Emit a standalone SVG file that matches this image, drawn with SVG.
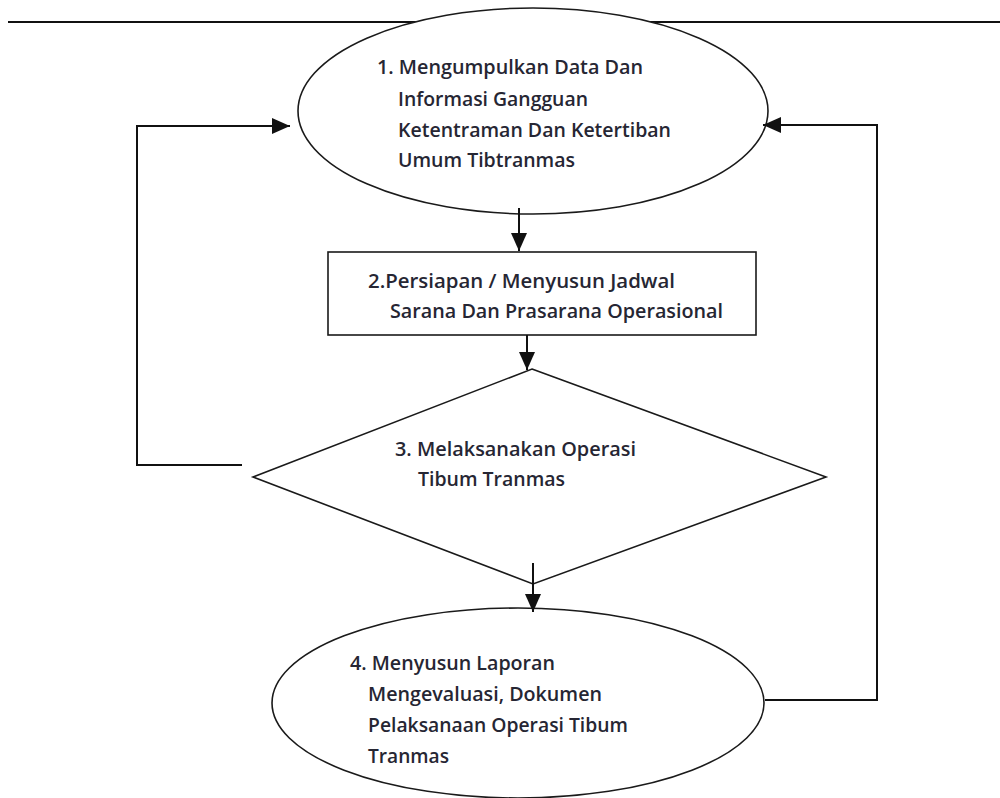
<svg xmlns="http://www.w3.org/2000/svg" width="1000" height="798" viewBox="0 0 1000 798">
  <style>
    .shape { fill: #ffffff; stroke: #1a1a1a; stroke-width: 1.6; }
    .conn { fill: none; stroke: #111111; stroke-width: 2; }
    .lbl { font-family: "Open Sans", "Liberation Sans", sans-serif; font-size: 19.5px; font-weight: 600; fill: #262633; }
  </style>
  <defs>
    <marker id="arrow" markerUnits="userSpaceOnUse" markerWidth="18" markerHeight="16" refX="18" refY="8" orient="auto">
      <path d="M0,0 L18,8 L0,16 z" fill="#111111"/>
    </marker>
  </defs>
  <rect width="1000" height="798" fill="#ffffff"/>
  <line x1="8" y1="22" x2="1000" y2="22" stroke="#111111" stroke-width="2"/>

  <g id="node1">
    <ellipse class="shape" cx="533" cy="111" rx="235" ry="103"/>
    <text class="lbl" x="377" y="74" textLength="266" lengthAdjust="spacingAndGlyphs">1. Mengumpulkan Data Dan</text>
    <text class="lbl" x="398" y="106" textLength="190" lengthAdjust="spacingAndGlyphs">Informasi Gangguan</text>
    <text class="lbl" x="398" y="137" textLength="273" lengthAdjust="spacingAndGlyphs">Ketentraman Dan Ketertiban</text>
    <text class="lbl" x="398" y="167" textLength="177" lengthAdjust="spacingAndGlyphs">Umum Tibtranmas</text>
  </g>

  <g id="node2">
    <rect class="shape" x="328" y="252" width="428" height="83"/>
    <text class="lbl" x="368" y="288" textLength="307" lengthAdjust="spacingAndGlyphs">2.Persiapan / Menyusun Jadwal</text>
    <text class="lbl" x="390" y="318" textLength="333" lengthAdjust="spacingAndGlyphs">Sarana Dan Prasarana Operasional</text>
  </g>

  <g id="node3">
    <polygon class="shape" points="532,369 826,477 533,584 253,477"/>
    <text class="lbl" x="395" y="456" textLength="241" lengthAdjust="spacingAndGlyphs">3. Melaksanakan Operasi</text>
    <text class="lbl" x="418" y="486" textLength="147" lengthAdjust="spacingAndGlyphs">Tibum Tranmas</text>
  </g>

  <g id="node4">
    <ellipse class="shape" cx="518" cy="703" rx="246" ry="95"/>
    <text class="lbl" x="350" y="670" textLength="205" lengthAdjust="spacingAndGlyphs">4. Menyusun Laporan</text>
    <text class="lbl" x="368" y="701" textLength="234" lengthAdjust="spacingAndGlyphs">Mengevaluasi, Dokumen</text>
    <text class="lbl" x="368" y="732" textLength="260" lengthAdjust="spacingAndGlyphs">Pelaksanaan Operasi Tibum</text>
    <text class="lbl" x="368" y="763" textLength="81" lengthAdjust="spacingAndGlyphs">Tranmas</text>
  </g>

  <g id="connectors">
    <path class="conn" d="M242,465 H137 V126 H290" marker-end="url(#arrow)"/>
    <path class="conn" d="M765,700 H877 V125 H763" marker-end="url(#arrow)"/>
    <path class="conn" d="M519,208 V251" marker-end="url(#arrow)"/>
    <path class="conn" d="M527,335 V370" marker-end="url(#arrow)"/>
    <path class="conn" d="M533,563 V612" marker-end="url(#arrow)"/>
  </g>
</svg>
